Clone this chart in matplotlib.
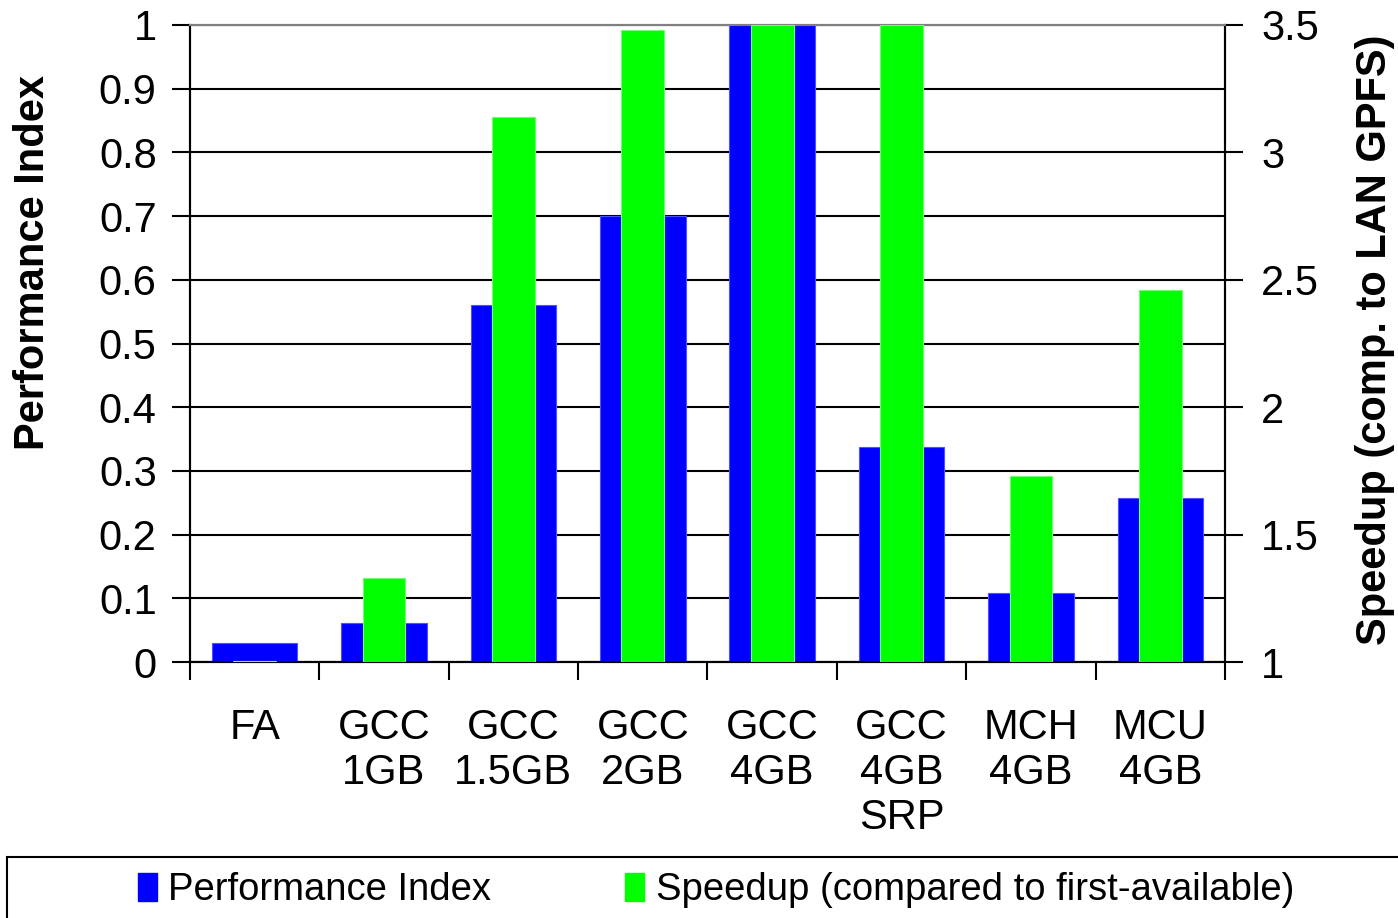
import numpy as np
import matplotlib.pyplot as plt
from matplotlib.patches import Rectangle

plt.rcParams['font.family'] = ['Liberation Sans', 'DejaVu Sans']

categories = ['FA', 'GCC\n1GB', 'GCC\n1.5GB', 'GCC\n2GB', 'GCC\n4GB', 'GCC\n4GB\nSRP', 'MCH\n4GB', 'MCU\n4GB']
perf_index = [0.03, 0.062, 0.56, 0.70, 1.0, 0.338, 0.108, 0.257]
speedup = [1.005, 1.33, 3.14, 3.48, 3.5, 3.5, 1.73, 2.46]

BLUE = '#0000ff'
GREEN = '#00ff00'

fig = plt.figure(figsize=(13.98, 9.18), dpi=100)
ax = fig.add_axes([190 / 1398, 1 - 662 / 918, (1225 - 190) / 1398, (662 - 25) / 918])
ax2 = ax.twinx()

x = np.arange(len(categories))
ax.bar(x, perf_index, width=0.66, color=BLUE, edgecolor='#5050ff', linewidth=0.8, zorder=3)
sp = np.array(speedup)
ax2.bar(x, sp - 1, bottom=1, width=0.33, color=GREEN, edgecolor='#70ff70', linewidth=0.8, zorder=3)

ax.set_xlim(-0.5, len(categories) - 0.5)
ax.set_ylim(0, 1)
ax2.set_ylim(1, 3.5)

ax.set_yticks(np.arange(0, 1.01, 0.1))
ax.set_yticklabels(['0'] + [f'{v:.1f}' for v in np.arange(0.1, 0.95, 0.1)] + ['1'])
ax.yaxis.grid(True, color='black', linewidth=1.5, zorder=0)
ax.set_axisbelow(True)
ax2.set_yticks([1, 1.5, 2, 2.5, 3, 3.5])
ax2.set_yticklabels(['1', '1.5', '2', '2.5', '3', '3.5'])

ax.set_xticks(x)
ax.set_xticklabels(categories, fontsize=30, linespacing=1.17)
ax.set_xticks(np.arange(-0.5, len(categories), 1), minor=True)
ax.tick_params(axis='x', which='major', length=0, pad=33)
ax.tick_params(axis='x', which='minor', length=13, width=1.5, direction='out')
ax.tick_params(axis='y', labelsize=30, length=13, width=1.5, pad=11)
ax2.tick_params(axis='y', labelsize=30, length=13, width=1.5, pad=13)

for a in (ax, ax2):
    a.spines['top'].set_color('#808080')
    a.spines['top'].set_linewidth(1.5)
    a.spines['left'].set_linewidth(1.5)
    a.spines['right'].set_linewidth(1.5)
    a.spines['bottom'].set_linewidth(1.5)

fig.text(33 / 1398, 1 - 263 / 918, 'Performance Index', rotation=90, fontsize=30,
         fontweight='bold', ha='center', va='center')
fig.text(1375 / 1398, 1 - 340 / 918, 'Speedup (comp. to LAN GPFS)', rotation=90, fontsize=30,
         fontweight='bold', ha='center', va='center')

# legend box along the bottom
fig.patches.append(Rectangle((7 / 1398, -0.01), 1.0, (918 - 857) / 918 + 0.01,
                             transform=fig.transFigure, fill=False,
                             edgecolor='black', linewidth=1.5))
handles = [Rectangle((0, 0), 1, 1, color=BLUE), Rectangle((0, 0), 1, 1, color=GREEN)]
fig.legend(handles, ['Performance Index', 'Speedup (compared to first-available)'],
           loc='center', bbox_to_anchor=(716 / 1398, 1 - 890 / 918), ncol=2, frameon=False,
           fontsize=27.5, handlelength=0.5, handleheight=0.75, handletextpad=0.3,
           columnspacing=3.5)

fig.savefig('out.png', dpi=100)
